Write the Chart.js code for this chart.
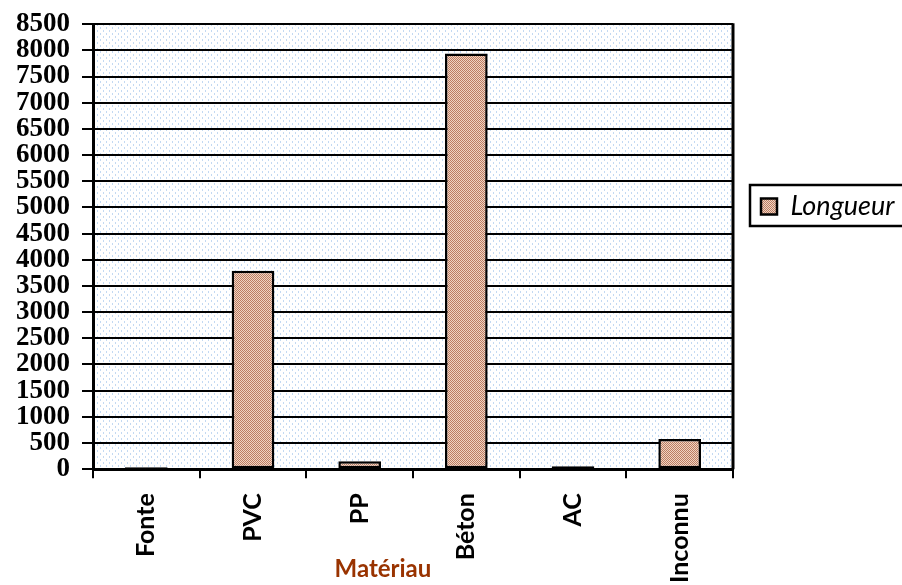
<!DOCTYPE html>
<html>
<head>
<meta charset="utf-8">
<script src="https://cdn.jsdelivr.net/npm/chart.js@4.4.1/dist/chart.umd.min.js"></script>
<style>
  html, body { margin: 0; padding: 0; background: #fff; }
  #wrap { width: 902px; height: 585px; }
</style>
</head>
<body>
<div id="wrap"><canvas id="myChart" width="902" height="585"></canvas></div>
<script>
// data
var categories = ["Fonte", "PVC", "PP", "Béton", "AC", "Inconnu"];
var longueur = [35, 3790, 150, 7940, 55, 575];
var seriesName = "Longueur";
var axisTitle = "Matériau";
var yMax = 8500;
var yStep = 500;

function makePattern(size, draw) {
  var c = document.createElement("canvas");
  c.width = size; c.height = size;
  var g = c.getContext("2d");
  draw(g);
  return c.getContext("2d").createPattern(c, "repeat");
}

// tan checked fill of the bars
var barFill = makePattern(2, function (g) {
  g.fillStyle = "#f0d4c2"; g.fillRect(0, 0, 2, 2);
  g.fillStyle = "#bc7d63"; g.fillRect(0, 0, 1, 1); g.fillRect(1, 1, 1, 1);
});
// light blue dotted plot background
var plotFill = makePattern(6, function (g) {
  g.fillStyle = "#ffffff"; g.fillRect(0, 0, 6, 6);
  g.fillStyle = "#c3d9f2"; g.fillRect(1, 0, 1, 2); g.fillRect(4, 3, 1, 2);
});

var plotBackground = {
  id: "plotBackground",
  beforeDraw: function (chart) {
    var a = chart.chartArea, ctx = chart.ctx;
    ctx.save();
    ctx.fillStyle = plotFill;
    ctx.fillRect(a.left, a.top, a.right - a.left, a.bottom - a.top);
    ctx.restore();
  },
  afterDraw: function (chart) {
    var a = chart.chartArea, ctx = chart.ctx;
    ctx.save();
    // right edge of the plot frame
    ctx.strokeStyle = "#000"; ctx.lineWidth = 3;
    ctx.beginPath(); ctx.moveTo(a.right, a.top - 1); ctx.lineTo(a.right, a.bottom); ctx.stroke();
    // frame round the legend
    var hb = chart.legend.legendHitBoxes[0];
    if (hb) {
      ctx.lineWidth = 2.5;
      ctx.strokeRect(hb.left - 11, hb.top - 8, 200, hb.height + 14);
    }
    // x axis title, sits over the label band
    ctx.fillStyle = "#993300";
    ctx.font = "bold 24px Lato";
    ctx.textAlign = "center"; ctx.textBaseline = "middle";
    ctx.fillText(axisTitle, a.left + (a.right - a.left) * 0.453, 569);
    ctx.restore();
  }
};

var legendWidth = {
  id: "legendWidth",
  beforeInit: function (chart) {
    var fit = chart.legend.fit;
    chart.legend.fit = function () {
      fit.bind(chart.legend)();
      this.width = 169;
    };
  }
};

new Chart("myChart", {
  type: "bar",
  data: {
    labels: categories,
    datasets: [{
      label: seriesName,
      data: longueur,
      backgroundColor: barFill,
      borderColor: "#000",
      borderWidth: 2.5,
      borderSkipped: false,
      barPercentage: 0.4,
      categoryPercentage: 1
    }]
  },
  options: {
    responsive: false,
    animation: false,
    layout: { padding: { left: 4, top: 24, bottom: -13, right: 0 } },
    plugins: {
      tooltip: { enabled: false },
      legend: {
        position: "right",
        align: "start",
        title: { display: true, text: "", font: { size: 10 }, padding: { top: 129, bottom: 0 } },
        labels: {
          color: "#000",
          boxWidth: 16,
          boxHeight: 16,
          padding: 28,
          font: { family: "Lato", size: 27, style: "italic" }
        }
      }
    },
    scales: {
      x: {
        grid: { display: true, drawOnChartArea: false, color: "#000", lineWidth: 2, tickLength: 9 },
        border: { display: true, color: "#000", width: 3 },
        ticks: {
          color: "#000",
          autoSkip: false,
          minRotation: 90,
          maxRotation: 90,
          padding: 15,
          font: { family: "Lato", size: 25, weight: "bold" }
        }
      },
      y: {
        min: 0,
        max: yMax,
        grid: { color: "#000", lineWidth: 2, tickLength: 11 },
        border: { display: true, color: "#000", width: 3 },
        ticks: {
          stepSize: yStep,
          autoSkip: false,
          color: "#000",
          padding: 12,
          font: { family: "Liberation Serif", size: 27, weight: "bold", lineHeight: 0.9 },
          callback: function (v) { return String(v); }
        }
      }
    }
  },
  plugins: [plotBackground, legendWidth]
});
</script>
</body>
</html>
